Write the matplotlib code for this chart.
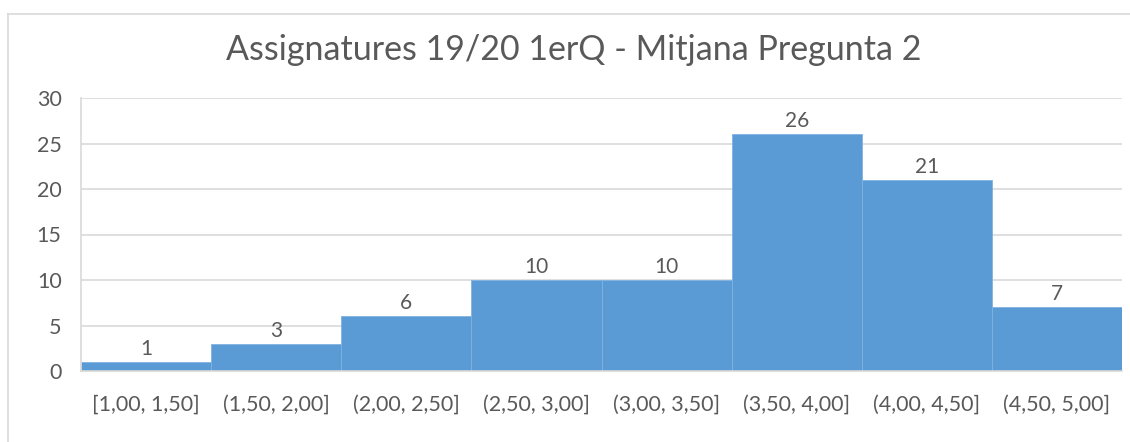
import matplotlib.pyplot as plt
from matplotlib.lines import Line2D

# Data
bins = ["[1,00, 1,50]", "(1,50, 2,00]", "(2,00, 2,50]", "(2,50, 3,00]",
        "(3,00, 3,50]", "(3,50, 4,00]", "(4,00, 4,50]", "(4,50, 5,00]"]
counts = [1, 3, 6, 10, 10, 26, 21, 7]
y_ticks = [0, 5, 10, 15, 20, 25, 30]

TITLE = "Assignatures 19/20 1erQ - Mitjana Pregunta 2"
BAR_COLOR = "#5B9BD5"
TEXT_COLOR = "#595959"
GRID_COLOR = "#D9D9D9"

plt.rcParams["font.family"] = ["Lato", "DejaVu Sans"]

fig = plt.figure(figsize=(11.3, 4.42), dpi=100)
W, H = 1130, 442
ax = fig.add_axes([81 / W, 1 - 371 / H, (1122 - 81) / W, (371 - 98) / H])

x = list(range(len(counts)))
ax.bar(x, counts, width=1.0, color=BAR_COLOR, edgecolor="#7FB2E0",
       linewidth=0.6, zorder=2)

# Data labels
for xi, c in zip(x, counts):
    ax.text(xi, c + 0.35, str(c), ha="center", va="bottom",
            fontsize=15, color=TEXT_COLOR, zorder=3)

ax.set_xlim(-0.5, len(counts) - 0.5)
ax.set_ylim(0, 30)
ax.set_yticks(y_ticks)
ax.set_xticks(x)
ax.set_xticklabels(bins)
ax.tick_params(axis="both", length=0, labelsize=15.5, colors=TEXT_COLOR)
ax.tick_params(axis="y", pad=14)
ax.tick_params(axis="x", pad=17)

ax.yaxis.grid(True, color=GRID_COLOR, linewidth=1.2, zorder=0)
ax.set_axisbelow(True)
for side in ["top", "right"]:
    ax.spines[side].set_visible(False)
ax.spines["left"].set_color(GRID_COLOR)
ax.spines["left"].set_linewidth(1.2)
ax.spines["bottom"].set_color(GRID_COLOR)
ax.spines["bottom"].set_linewidth(1.2)

fig.text(574 / W, 1 - 50 / H, TITLE, ha="center", va="center",
         fontsize=24.5, color=TEXT_COLOR)

# Outer chart border
fig.add_artist(Line2D([7.5 / W, 7.5 / W], [0, 1 - 13.5 / H],
                      transform=fig.transFigure, color=GRID_COLOR, linewidth=1.2))
fig.add_artist(Line2D([7.5 / W, 1], [1 - 13.5 / H, 1 - 13.5 / H],
                      transform=fig.transFigure, color=GRID_COLOR, linewidth=1.2))

fig.savefig("out.png", dpi=100)
